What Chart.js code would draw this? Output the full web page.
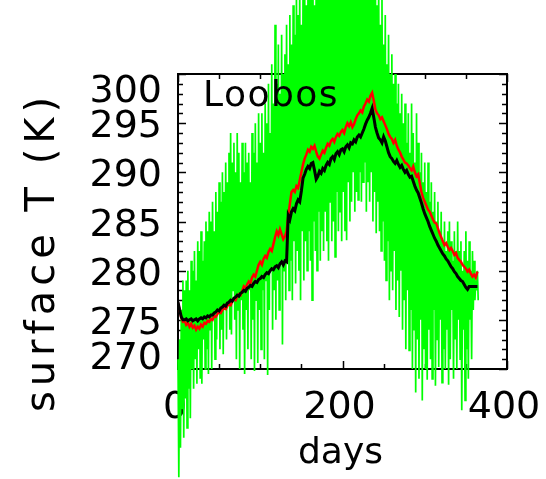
<!DOCTYPE html>
<html>
<head>
<meta charset="utf-8">
<script src="https://cdn.jsdelivr.net/npm/chart.js@4.4.1/dist/chart.umd.min.js"></script>
<style>
  html, body { margin: 0; padding: 0; background: #fff; }
  #wrap { width: 546px; height: 479px; }
</style>
</head>
<body>
<div id="wrap"><canvas id="tempChart" width="546" height="479"></canvas></div>
<script>
// ==========================
// LOOBOS SURFACE TEMPERATURE
// ==========================
const siteName = "Loobos";
const xTitle = "days";
const yTitle = "surface T (K)";

const xRange = [0, 400];
const yRange = [270, 300];
const xTickLabels = [0, 200, 400];
const yTickLabels = [270, 275, 280, 285, 290, 295, 300];
const xMinorStep = 50;
const yMinorStep = 1;

// samples every 2 days (day 0, 2, 4 ... 364)
const dayStep = 2;

// observed: daily maximum (even days) and minimum (odd days)
const greenHigh = [
  271, 273, 276, 279, 278, 279, 280, 278, 281, 280,
  282, 279, 283, 282, 284, 281, 283, 285, 284, 286,
  285, 287, 284, 288, 286, 289, 287, 290, 288, 291,
  289, 292, 294, 291, 293, 290, 294, 292, 289, 293,
  290, 293, 291, 292, 289, 294, 292, 295, 291, 296,
  293, 296, 292, 297, 295, 299, 294, 301, 297, 305,
  299, 303, 298, 304, 300, 302, 305, 301, 306, 303,
  307, 304, 308, 306, 309, 305, 308, 310, 307, 309,
  310, 308, 311, 307, 310, 309, 312, 308, 311, 310,
  312, 309, 311, 313, 310, 312, 309, 313, 311, 312,
  313, 310, 312, 314, 311, 313, 310, 312, 314, 311,
  313, 311, 312, 310, 313, 309, 312, 310, 311, 308,
  310, 307, 309, 305, 308, 303, 306, 301, 304, 300,
  302, 299, 300, 297, 299, 296, 298, 295, 297, 293,
  296, 292, 297, 294, 291, 296, 293, 290, 292, 289,
  291, 288, 291, 287, 289, 286, 288, 285, 287, 284,
  286, 283, 285, 282, 284, 285, 283, 281, 284, 282,
  285, 282, 283, 280, 282, 284, 281, 283, 280, 282,
  281, 279, 280
];
const greenLow = [
  259, 262, 266, 263, 267, 264, 268, 265, 270, 268,
  271, 268.5, 272, 269, 268.5, 273, 270, 272, 269.5, 274,
  270, 275, 271, 273, 276, 272, 274, 271.5, 276, 273,
  277, 274, 273.5, 278, 275, 271, 276, 270, 277, 274,
  269.5, 276, 272, 278, 271, 275, 269.8, 277, 270.6, 276,
  272, 278, 271, 279, 269.4, 276, 280, 274, 278, 275,
  279, 276, 281, 272.5, 280, 277, 282, 278, 281, 277,
  283, 278.7, 282, 280, 277, 284, 279, 283, 280, 284,
  281, 277, 285, 282, 280, 286, 281, 284, 282, 286,
  283, 281, 287, 283, 285, 281.4, 288, 284, 286, 283,
  288, 284, 283.1, 289, 285, 287, 290, 286, 288, 287.2,
  290, 287, 289, 291, 286, 289, 287, 290, 285, 288,
  283.8, 287, 284, 282, 285, 281, 279, 283, 277, 280,
  278, 282, 276, 279, 275.3, 280, 274, 277, 272, 278,
  271.9, 276, 270, 274, 267.6, 273, 269, 275, 266.8, 272,
  270, 268.9, 274, 271, 269, 276, 268.3, 273, 270.2, 275,
  268.6, 272, 270, 274, 268.4, 271, 276, 269, 273, 270,
  275, 271, 265.8, 274, 266.8, 272, 269, 275, 271, 276,
  277, 278, 277
];

// model run (red)
const redT = [
  276.7, 276.0, 275.2, 274.8, 274.9, 274.5, 274.7, 274.3, 274.6, 274.2,
  274.4, 274.0, 274.3, 274.1, 274.5, 274.3, 274.7, 274.6, 274.9, 274.8,
  275.1, 275.0, 275.4, 275.3, 275.6, 275.8, 275.7, 276.0, 276.2, 276.1,
  276.4, 276.6, 276.5, 276.9, 277.1, 277.0, 277.4, 277.6, 277.5, 277.9,
  278.4, 278.2, 278.6, 278.9, 278.7, 279.3, 279.6, 279.4, 280.0, 280.6,
  280.9, 280.6, 281.2, 281.5, 281.3, 281.9, 282.2, 282.0, 282.7, 283.4,
  284.0, 283.6, 284.2, 283.7, 283.2, 283.5, 284.0, 285.5, 286.8, 288.0,
  288.2, 288.0, 288.6, 288.4, 289.2, 290.0, 290.8, 291.4, 291.8, 292.3,
  292.1, 292.6, 292.4, 292.7, 292.1, 291.6, 291.4, 291.8, 292.2, 292.0,
  292.5, 292.9, 292.7, 293.2, 293.4, 293.1, 293.6, 293.9, 293.7, 294.1,
  294.3, 294.0, 294.6, 295.0, 294.7, 295.1, 294.6, 294.9, 295.4, 295.8,
  296.0, 296.3, 296.1, 296.7, 297.0, 297.4, 297.2, 297.8, 298.1, 297.3,
  296.4, 296.0, 295.8, 295.4, 295.6, 295.2, 294.8, 294.4, 293.9, 293.6,
  293.4, 293.0, 293.3, 292.7, 292.3, 292.0, 291.6, 291.3, 291.0, 290.9,
  290.7, 290.4, 290.2, 290.6, 290.0, 289.6, 289.8, 288.9, 288.0, 287.4,
  287.0, 286.6, 286.2, 286.0, 285.6, 285.2, 284.9, 284.8, 284.3, 283.8,
  283.4, 283.0, 282.6, 282.8, 282.4, 282.1, 282.3, 282.0, 281.6, 281.8,
  281.3, 281.1, 280.9, 280.6, 280.4, 280.2, 279.9, 280.1, 279.7, 279.4,
  279.6, 279.3, 279.9
];

// model run (black)
const blackT = [
  276.8, 276.0, 275.3, 275.0, 275.0, 275.1, 274.9, 275.0, 275.1, 274.9,
  275.0, 275.1, 274.9, 275.1, 275.2, 275.1, 275.3, 275.2, 275.4, 275.3,
  275.5, 275.5, 275.7, 275.8, 276.0, 275.9, 276.2, 276.3, 276.5, 276.4,
  276.7, 276.8, 277.0, 276.9, 277.2, 277.3, 277.5, 277.4, 277.7, 277.8,
  278.0, 277.9, 278.2, 278.3, 278.5, 278.4, 278.7, 278.9, 278.8, 279.1,
  279.2, 279.4, 279.3, 279.6, 279.8, 279.7, 280.0, 280.2, 280.1, 280.4,
  280.5, 280.3, 280.7, 280.9, 280.6, 281.0, 280.9, 285.6, 285.2, 286.0,
  286.3, 286.1, 286.8, 287.2, 287.0, 288.1, 289.4, 289.8, 290.3, 290.6,
  290.4, 290.9, 291.0, 290.2, 289.3, 289.6, 290.1, 289.9, 290.4, 290.2,
  290.7, 291.0, 290.8, 291.4, 291.6, 291.3, 291.9, 292.1, 291.8, 292.3,
  292.4, 292.1, 292.6, 292.8, 292.5, 293.0, 292.9, 293.3, 293.1, 293.6,
  293.8, 293.6, 294.0, 294.4, 294.9, 295.3, 295.6, 296.0, 296.5, 295.6,
  294.6, 294.0, 293.5, 293.3, 293.0, 293.6, 293.2, 292.6, 292.0, 291.6,
  291.4, 291.1, 290.9, 291.2, 290.8, 290.5, 290.7, 290.3, 290.0, 290.2,
  289.8, 289.5, 289.6, 289.1, 288.6, 288.2, 287.9, 287.4, 286.9, 286.3,
  285.8, 285.4, 285.0, 284.5, 284.1, 283.7, 283.3, 283.0, 282.6, 282.3,
  282.0, 281.7, 281.5, 281.2, 281.0, 280.7, 280.4, 280.2, 279.9, 279.7,
  279.4, 279.2, 279.0, 278.9, 278.6, 278.3, 278.1, 278.4, 278.4, 278.4,
  278.4, 278.4, 278.4
];

function toPoints(values) {
  return values.map((v, i) => ({ x: i * dayStep, y: v }));
}

// max/min alternate so the observed curve zigzags day by day
const greenPoints = [];
greenHigh.forEach((h, i) => {
  greenPoints.push({ x: i * dayStep, y: h });
  if (i < greenLow.length) greenPoints.push({ x: i * dayStep + 1, y: greenLow[i] });
});

const tickFont = "38px 'DejaVu Sans'";

// box, inward ticks, labels and titles (drawn under the curves)
const idlFrame = {
  id: "idlFrame",
  beforeDatasetsDraw(chart) {
    const { ctx, chartArea: a, scales: { x, y } } = chart;
    ctx.save();
    ctx.strokeStyle = "#000";
    ctx.fillStyle = "#000";

    ctx.lineWidth = 2;
    ctx.strokeRect(a.left, a.top, a.right - a.left, a.bottom - a.top);

    ctx.lineWidth = 1.5;
    ctx.beginPath();
    for (let v = yRange[0]; v <= yRange[1]; v += yMinorStep) {
      const py = Math.round(y.getPixelForValue(v)) + 0.5;
      const len = yTickLabels.includes(v) ? 8 : 5;
      ctx.moveTo(a.left, py); ctx.lineTo(a.left + len, py);
      ctx.moveTo(a.right, py); ctx.lineTo(a.right - len, py);
    }
    for (let v = xRange[0]; v <= xRange[1]; v += xMinorStep) {
      const px = Math.round(x.getPixelForValue(v)) + 0.5;
      const len = xTickLabels.includes(v) ? 8 : 5;
      ctx.moveTo(px, a.bottom); ctx.lineTo(px, a.bottom - len);
      ctx.moveTo(px, a.top); ctx.lineTo(px, a.top + len);
    }
    ctx.stroke();

    // tick labels
    ctx.font = tickFont;
    const digitH = 28;
    ctx.textAlign = "right";
    ctx.textBaseline = "alphabetic";
    yTickLabels.forEach(v => {
      let cy = y.getPixelForValue(v);
      cy = Math.min(Math.max(cy, a.top + digitH / 2), a.bottom - digitH / 2);
      ctx.fillText(String(v), a.left - 16, cy + digitH / 2);
    });
    ctx.textAlign = "center";
    xTickLabels.forEach(v => {
      ctx.fillText(String(v), x.getPixelForValue(v) - 3, 418);
    });

    // axis titles
    ctx.font = "36px 'DejaVu Sans'";
    ctx.fillText(xTitle, (a.left + a.right) / 2 - 2, 463);

    ctx.translate(54, 252);
    ctx.rotate(-Math.PI / 2);
    ctx.font = "40px 'DejaVu Sans'";
    ctx.letterSpacing = "5px";
    ctx.textAlign = "center";
    ctx.fillText(yTitle, 0, 0);
    ctx.restore();
  },
  // site name sits on top of the curves
  afterDatasetsDraw(chart) {
    const { ctx, chartArea: a } = chart;
    ctx.save();
    ctx.fillStyle = "#000";
    ctx.font = "36px 'DejaVu Sans'";
    ctx.letterSpacing = "1.5px";
    ctx.textAlign = "left";
    ctx.textBaseline = "alphabetic";
    ctx.fillText(siteName, a.left + 25, 106);
    ctx.restore();
  }
};

const tempChart = new Chart(document.getElementById("tempChart").getContext("2d"), {
  type: "line",
  data: {
    datasets: [
      { label: "black", data: toPoints(blackT), borderColor: "#000000", borderWidth: 3 },
      { label: "red", data: toPoints(redT), borderColor: "#ff0000", borderWidth: 2.5 },
      { label: "green", data: greenPoints, borderColor: "#00ff00", borderWidth: 1.7, clip: false }
    ]
  },
  options: {
    responsive: false,
    animation: false,
    devicePixelRatio: 1,
    events: [],
    elements: {
      point: { radius: 0 },
      line: { tension: 0, fill: false }
    },
    layout: { padding: { left: 178, right: 39, top: 74, bottom: 110 } },
    plugins: {
      legend: { display: false },
      tooltip: { enabled: false }
    },
    scales: {
      x: { type: "linear", min: xRange[0], max: xRange[1], display: false },
      y: { type: "linear", min: yRange[0], max: yRange[1], display: false }
    }
  },
  plugins: [idlFrame]
});
</script>
</body>
</html>
